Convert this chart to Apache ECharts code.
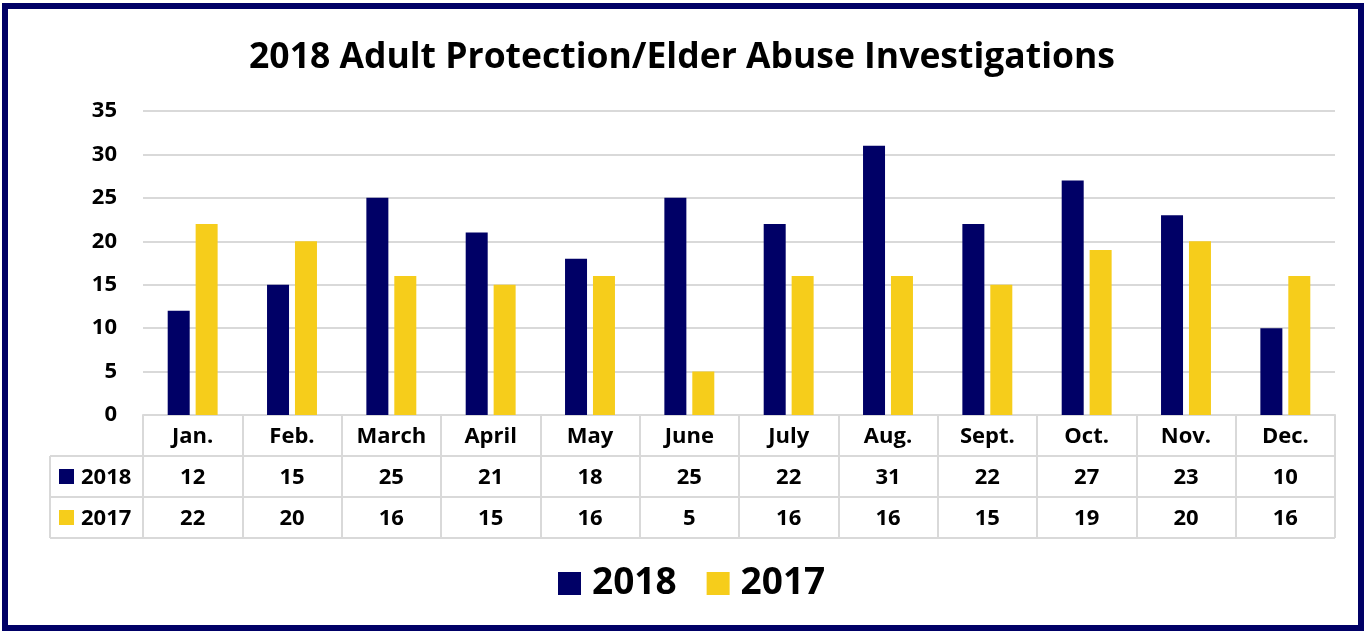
<!DOCTYPE html>
<html>
<head>
<meta charset="utf-8">
<script src="https://cdn.jsdelivr.net/npm/echarts@6/dist/echarts.min.js"></script>
<style>
  html, body { margin: 0; padding: 0; background: #fff; }
  #chart { width: 1364px; height: 631px; }
</style>
</head>
<body>
<div id="chart"></div>
<script>
// chart data
const months = ["Jan.", "Feb.", "March", "April", "May", "June", "July", "Aug.", "Sept.", "Oct.", "Nov.", "Dec."];
const seriesNames = ["2018", "2017"];
const values2018 = [12, 15, 25, 21, 18, 25, 22, 31, 22, 27, 23, 10];
const values2017 = [22, 20, 16, 15, 16, 5, 16, 16, 15, 19, 20, 16];
const yTicks = [0, 5, 10, 15, 20, 25, 30, 35];

const navy = "#000066";
const gold = "#F6CD1B";
const lineGrey = "#d9d9d9";
const font = "Open Sans";
const fs = 22;

const myChart = echarts.init(document.getElementById("chart"));

let option = {
  backgroundColor: "#fff",
  textStyle: { fontFamily: font, fontWeight: "bold", color: "#000" },
  title: {
    text: "2018 Adult Protection/Elder Abuse Investigations",
    left: "center",
    top: 35,
    textStyle: { fontFamily: font, fontWeight: "bold", fontSize: 35.5, color: "#000" }
  },
  legend: {
    data: seriesNames,
    left: 553,
    top: 560,
    itemWidth: 23,
    itemHeight: 23,
    itemGap: 30,
    icon: "rect",
    textStyle: { fontFamily: font, fontWeight: "bold", fontSize: 37, color: "#000", padding: [0, 0, 0, 6] }
  },
  grid: {
    left: 143,
    right: 29,
    top: 111,
    bottom: 216
  },
  xAxis: {
    type: "category",
    data: months,
    axisLine: { show: true, lineStyle: { color: lineGrey, width: 2 } },
    axisTick: { show: true, length: 123, lineStyle: { color: lineGrey, width: 2 } },
    axisLabel: {
      margin: 1,
      interval: 0,
      formatter: function(val, idx) {
        return "{m|" + val + "}\n{v|" + values2018[idx] + "}\n{v|" + values2017[idx] + "}";
      },
      rich: {
        m: { fontFamily: font, fontWeight: "bold", fontSize: fs, lineHeight: 41, color: "#000" },
        v: { fontFamily: font, fontWeight: "bold", fontSize: fs, lineHeight: 41, color: "#000" }
      }
    }
  },
  yAxis: {
    type: "value",
    min: yTicks[0],
    max: yTicks[yTicks.length - 1],
    interval: 5,
    axisLine: { show: false },
    axisTick: { show: false },
    splitLine: { lineStyle: { color: lineGrey, width: 2 } },
    axisLabel: {
      margin: 26,
      fontFamily: font,
      fontWeight: "bold",
      fontSize: fs,
      color: "#000"
    }
  },
  series: [
    {
      name: seriesNames[0],
      type: "bar",
      data: values2018,
      barWidth: 22,
      barGap: "27%",
      itemStyle: { color: navy }
    },
    {
      name: seriesNames[1],
      type: "bar",
      data: values2017,
      barWidth: 22,
      itemStyle: { color: gold }
    }
  ],
  graphic: [
    // data table rules
    { type: "line", shape: { x1: 50, y1: 456, x2: 1335, y2: 456 }, style: { stroke: lineGrey, lineWidth: 2 } },
    { type: "line", shape: { x1: 50, y1: 497, x2: 1335, y2: 497 }, style: { stroke: lineGrey, lineWidth: 2 } },
    { type: "line", shape: { x1: 50, y1: 538, x2: 1335, y2: 538 }, style: { stroke: lineGrey, lineWidth: 2 } },
    { type: "line", shape: { x1: 50, y1: 456, x2: 50, y2: 538 }, style: { stroke: lineGrey, lineWidth: 2 } },
    // row headers
    { type: "rect", shape: { x: 59, y: 469, width: 15, height: 15 }, style: { fill: navy } },
    { type: "text", x: 81, y: 478, style: { text: seriesNames[0], fontFamily: font, fontWeight: "bold", fontSize: fs, fill: "#000", verticalAlign: "middle" } },
    { type: "rect", shape: { x: 59, y: 510, width: 15, height: 15 }, style: { fill: gold } },
    { type: "text", x: 81, y: 519, style: { text: seriesNames[1], fontFamily: font, fontWeight: "bold", fontSize: fs, fill: "#000", verticalAlign: "middle" } },
    // outer frame
    { type: "rect", z: 100, shape: { x: 5, y: 6, width: 1356, height: 622 }, style: { fill: "none", stroke: navy, lineWidth: 6 } }
  ]
};

myChart.setOption(option, true);
</script>
</body>
</html>
